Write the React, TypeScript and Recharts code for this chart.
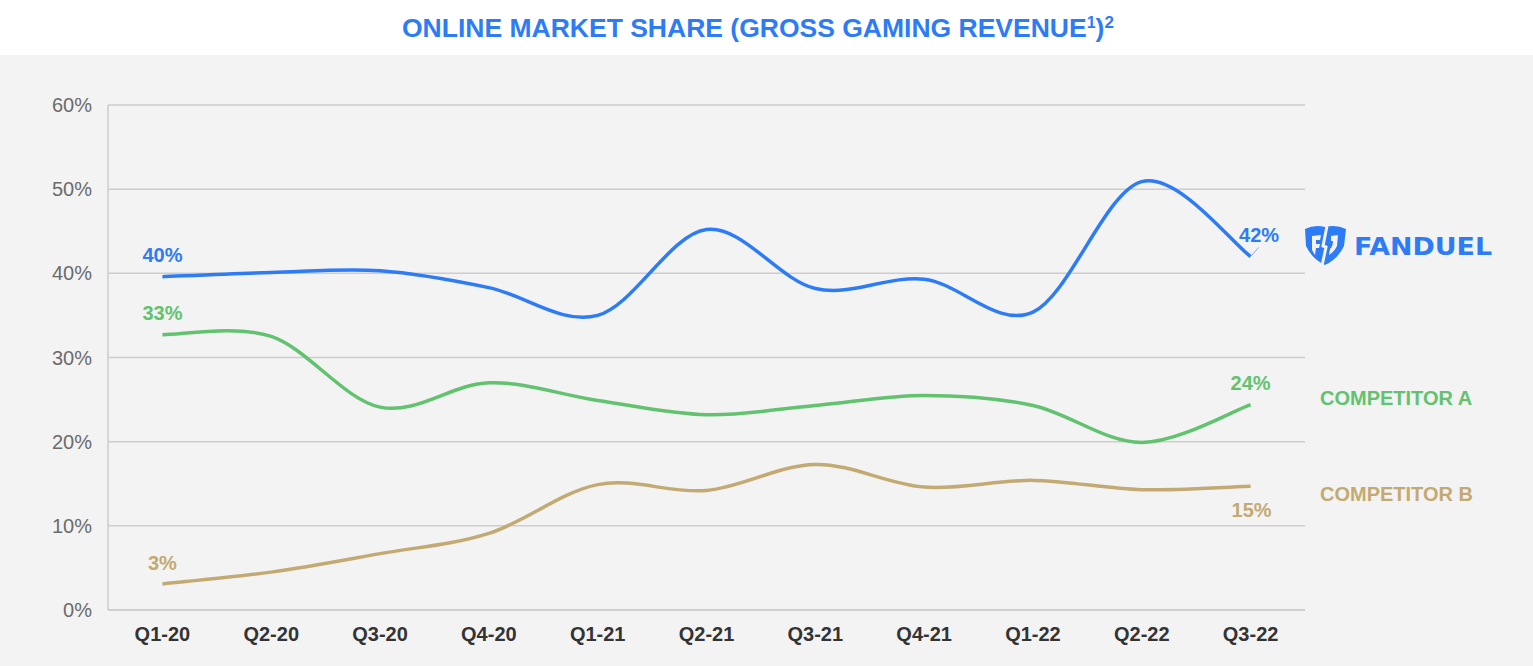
import React from 'react';
import { LineChart, Line, XAxis, YAxis, CartesianGrid } from 'recharts';

const quarters = ['Q1-20', 'Q2-20', 'Q3-20', 'Q4-20', 'Q1-21', 'Q2-21', 'Q3-21', 'Q4-21', 'Q1-22', 'Q2-22', 'Q3-22'];
const fanduel = [39.6, 40.1, 40.3, 38.3, 35.0, 45.2, 38.2, 39.3, 35.4, 50.9, 42.0];
const competitorA = [32.7, 32.5, 24.1, 27.0, 24.9, 23.2, 24.3, 25.5, 24.3, 19.9, 24.4];
const competitorB = [3.1, 4.5, 6.7, 9.1, 14.9, 14.2, 17.3, 14.6, 15.4, 14.3, 14.7];
const yTicks = [0, 10, 20, 30, 40, 50, 60];

const BLUE = '#2d7cf6';
const GREEN = '#62c26f';
const TAN = '#c3aa72';
const FONT = '"Liberation Sans", Arial, sans-serif';

const data = quarters.map((q, i) => ({
  quarter: q,
  fanduel: fanduel[i],
  compA: competitorA[i],
  compB: competitorB[i],
}));

// Excel-style smoothed line (catmull-rom like bezier segments)
const smoothCurve = (context: any) => {
  let pts: number[][] = [];
  return {
    areaStart() {},
    areaEnd() {},
    lineStart() {
      pts = [];
    },
    point(x: number, y: number) {
      pts.push([+x, +y]);
    },
    lineEnd() {
      if (!pts.length) return;
      context.moveTo(pts[0][0], pts[0][1]);
      for (let i = 0; i < pts.length - 1; i++) {
        const p0 = pts[Math.max(i - 1, 0)];
        const p1 = pts[i];
        const p2 = pts[i + 1];
        const p3 = pts[Math.min(i + 2, pts.length - 1)];
        context.bezierCurveTo(
          p1[0] + (p2[0] - p0[0]) / 6,
          p1[1] + (p2[1] - p0[1]) / 6,
          p2[0] - (p3[0] - p1[0]) / 6,
          p2[1] - (p3[1] - p1[1]) / 6,
          p2[0],
          p2[1]
        );
      }
    },
  };
};

type LabelCfg = { dx: number; dy: number; leader?: boolean };

const makeLabel = (color: string, show: Record<number, LabelCfg>) => (props: any) => {
  const cfg = show[props.index];
  if (!cfg) return null;
  const x = props.x ?? props.viewBox?.x;
  const y = props.y ?? props.viewBox?.y;
  return (
    <g key={`lbl-${color}-${props.index}`}>
      {cfg.leader && (
        <line x1={x + 1} y1={y - 1} x2={x + 8} y2={y - 9} stroke="#8fa6d6" strokeWidth={1} />
      )}
      <text
        x={x + cfg.dx}
        y={y + cfg.dy}
        textAnchor="middle"
        fill={color}
        fontFamily={FONT}
        fontWeight={700}
        fontSize={20}
      >
        {Math.round(Number(props.value))}%
      </text>
    </g>
  );
};

const App: React.FC = () => {
  return (
    <div style={{ position: 'absolute', left: 0, top: 0, width: 1533, height: 666, background: '#fff' }}>
      <div style={{ position: 'absolute', left: 0, top: 55, width: 1533, height: 611, background: '#f3f3f3' }}>
        <LineChart
          width={1533}
          height={611}
          data={data}
          margin={{ top: 50, right: 228, bottom: 0, left: 0 }}
        >
          <CartesianGrid vertical={false} stroke="#cdcdcd" strokeWidth={1.5} />
          <XAxis
            dataKey="quarter"
            height={56}
            padding={{ left: 54.4, right: 54.4 }}
            tickLine={false}
            tickSize={6}
            tickMargin={11}
            axisLine={{ stroke: '#cdcdcd', strokeWidth: 1.5 }}
            tick={{ fill: '#333', fontSize: 20, fontWeight: 700, fontFamily: FONT }}
          />
          <YAxis
            width={108}
            domain={[0, 60]}
            ticks={yTicks}
            tickFormatter={(v) => `${v}%`}
            tickLine={false}
            tickSize={6}
            tickMargin={10}
            axisLine={{ stroke: '#cdcdcd', strokeWidth: 1.5 }}
            tick={{ fill: '#6b6b6b', fontSize: 20, fontFamily: FONT }}
          />
          <Line
            dataKey="compB"
            type={smoothCurve as any}
            stroke={TAN}
            strokeWidth={3.5}
            dot={false}
            isAnimationActive={false}
            label={makeLabel(TAN, { 0: { dx: 0, dy: -14 }, 10: { dx: 1, dy: 31 } })}
          />
          <Line
            dataKey="compA"
            type={smoothCurve as any}
            stroke={GREEN}
            strokeWidth={3.5}
            dot={false}
            isAnimationActive={false}
            label={makeLabel(GREEN, { 0: { dx: 0, dy: -15 }, 10: { dx: 0, dy: -15 } })}
          />
          <Line
            dataKey="fanduel"
            type={smoothCurve as any}
            stroke={BLUE}
            strokeWidth={3.5}
            dot={false}
            isAnimationActive={false}
            label={makeLabel(BLUE, { 0: { dx: 0, dy: -15 }, 10: { dx: 8.5, dy: -15, leader: true } })}
          />
        </LineChart>
      </div>
      <svg
        width={1533}
        height={666}
        style={{ position: 'absolute', left: 0, top: 0, pointerEvents: 'none' }}
      >
        <text x={402} y={37} fill={BLUE} fontFamily={FONT} fontWeight={700} fontSize={26.5}>
          ONLINE MARKET SHARE (GROSS GAMING REVENUE
          <tspan fontSize={16} dy={-9}>1</tspan>
          <tspan fontSize={26.5} dy={9}>)</tspan>
          <tspan fontSize={17} dy={-9}>2</tspan>
        </text>
        {/* FanDuel shield */}
        <path
          d="M1305,229 Q1315,224 1325,227 Q1336,224 1346,229 L1344,246 Q1338,259 1325,265 Q1312,259 1306,246 Z"
          fill={BLUE}
        />
        <path d="M1327,226 L1323,246 L1326,247 L1322,266" stroke="#f3f3f3" strokeWidth={3} fill="none" />
        <path d="M1312,236 L1321,235 L1320,240 L1316,240 L1316,244 L1320,244 L1319,248 L1316,248 L1315,255 L1312,250 Z" fill="#f3f3f3" />
        <path d="M1331,236 L1338,235 L1337,246 Q1334,252 1329,255 L1330,249 Q1333,246 1333,241 L1331,241 Z" fill="#f3f3f3" />
        <text
          x={1354}
          y={255}
          fill={BLUE}
          fontFamily='"DejaVu Sans", sans-serif'
          fontWeight={700}
          fontSize={25.5}
          textLength={138}
          lengthAdjust="spacingAndGlyphs"
        >
          FANDUEL
        </text>
        <text x={1320} y={405} fill={GREEN} fontFamily={FONT} fontWeight={700} fontSize={20}>
          COMPETITOR A
        </text>
        <text x={1320} y={501} fill={TAN} fontFamily={FONT} fontWeight={700} fontSize={20}>
          COMPETITOR B
        </text>
      </svg>
    </div>
  );
};

export default App;
